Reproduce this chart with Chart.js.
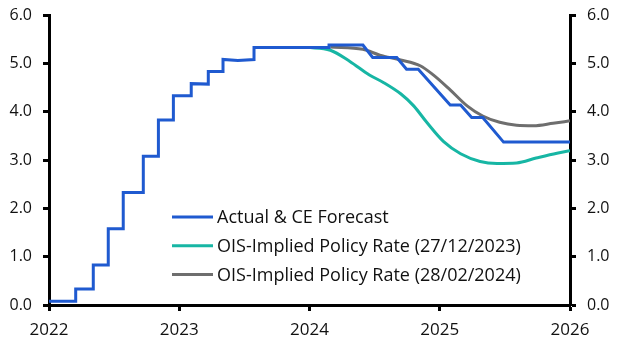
<!DOCTYPE html>
<html>
<head>
<meta charset="utf-8">
<script src="https://cdn.jsdelivr.net/npm/chart.js@4.4.0/dist/chart.umd.min.js"></script>
<style>
    html, body { margin: 0; padding: 0; background: #fff; }
    #wrap { width: 619px; height: 344px; }
</style>
</head>
<body>
<div id="wrap"><canvas id="rateChart" width="619" height="344"></canvas></div>
<script>
// x values are decimal years
const actualX = [2022.0, 2022.205, 2022.205, 2022.34, 2022.34, 2022.455, 2022.455, 2022.57, 2022.57,
    2022.724, 2022.724, 2022.84, 2022.84, 2022.955, 2022.955, 2023.092, 2023.092, 2023.223, 2023.223,
    2023.336, 2023.336, 2023.45, 2023.574, 2023.574, 2024.15, 2024.15, 2024.41, 2024.485, 2024.67,
    2024.745, 2024.835, 2025.08, 2025.16, 2025.245, 2025.33, 2025.49, 2026.0];
const actualY = [0.08, 0.08, 0.33, 0.33, 0.83, 0.83, 1.58, 1.58, 2.33,
    2.33, 3.08, 3.08, 3.83, 3.83, 4.33, 4.33, 4.58, 4.57, 4.83,
    4.83, 5.08, 5.06, 5.08, 5.33, 5.33, 5.38, 5.38, 5.12, 5.12,
    4.88, 4.88, 4.14, 4.14, 3.88, 3.88, 3.37, 3.37];

const oisDecX = [2023.98, 2024.16, 2024.31, 2024.46, 2024.57, 2024.70, 2024.80, 2024.90, 2025.03,
    2025.16, 2025.31, 2025.44, 2025.59, 2025.74, 2025.90, 2026.0];
const oisDecY = [5.33, 5.27, 5.04, 4.76, 4.60, 4.37, 4.12, 3.78, 3.38,
    3.13, 2.97, 2.93, 2.94, 3.04, 3.14, 3.19];

const oisFebX = [2024.16, 2024.41, 2024.54, 2024.70, 2024.85, 2024.95, 2025.08, 2025.21, 2025.33,
    2025.46, 2025.59, 2025.72, 2025.87, 2026.0];
const oisFebY = [5.34, 5.29, 5.17, 5.07, 4.95, 4.76, 4.45, 4.12, 3.91,
    3.78, 3.72, 3.71, 3.76, 3.81];

const seriesLabels = ['Actual & CE Forecast', 'OIS-Implied Policy Rate (27/12/2023)', 'OIS-Implied Policy Rate (28/02/2024)'];
const seriesColors = ['#1f5ad0', '#17b6a4', '#6e6e6e'];

const yMin = 0, yMax = 6, yStep = 1;
const xMin = 2022, xMax = 2026;

const FONT = '"Open Sans", sans-serif';

function toPoints(xs, ys) {
    return xs.map((x, i) => ({ x: x, y: ys[i] }));
}

// legend drawn inside the plot, lower-left middle
const insideLegend = {
    id: 'insideLegend',
    afterDraw(chart) {
        const ctx = chart.ctx;
        const area = chart.chartArea;
        const x0 = area.left + 123;
        const y0 = area.top + 202;
        ctx.save();
        ctx.font = '18px ' + FONT;
        ctx.textBaseline = 'middle';
        chart.data.datasets.forEach((ds, i) => {
            const y = y0 + i * 28.7;
            ctx.strokeStyle = ds.borderColor;
            ctx.lineWidth = 3;
            ctx.beginPath();
            ctx.moveTo(x0, y);
            ctx.lineTo(x0 + 41, y);
            ctx.stroke();
            ctx.fillStyle = '#111';
            ctx.fillText(ds.label, x0 + 45, y + 1);
        });
        ctx.restore();
    }
};

function yAxis(position) {
    return {
        type: 'linear',
        position: position,
        min: yMin,
        max: yMax,
        afterFit: s => {
            s.width = 49;
            s.paddingTop = 0;
            s.paddingBottom = 0;
        },
        border: { display: true, color: '#000', width: 3 },
        grid: { drawOnChartArea: false, drawTicks: true, tickLength: 6, tickWidth: 3, tickColor: '#000' },
        ticks: {
            stepSize: yStep,
            padding: 11,
            color: '#111',
            font: { family: FONT, size: 16 },
            callback: v => v.toFixed(1)
        }
    };
}

const ctx = document.getElementById('rateChart').getContext('2d');
const rateChart = new Chart(ctx, {
    type: 'line',
    data: {
        datasets: [
            { label: seriesLabels[0], data: toPoints(actualX, actualY), borderColor: seriesColors[0], borderWidth: 3, tension: 0 },
            { label: seriesLabels[1], data: toPoints(oisDecX, oisDecY), borderColor: seriesColors[1], borderWidth: 3, cubicInterpolationMode: 'monotone' },
            { label: seriesLabels[2], data: toPoints(oisFebX, oisFebY), borderColor: seriesColors[2], borderWidth: 3, cubicInterpolationMode: 'monotone' }
        ]
    },
    options: {
        responsive: false,
        animation: false,
        devicePixelRatio: 1,
        parsing: false,
        elements: { point: { radius: 0 } },
        layout: { padding: { top: 15, left: 0, right: 0, bottom: 0 } },
        plugins: {
            legend: { display: false },
            tooltip: { enabled: false }
        },
        scales: {
            x: {
                type: 'linear',
                min: xMin,
                max: xMax,
                afterFit: s => {
                    s.height = 39;
                    s.paddingLeft = 0;
                    s.paddingRight = 0;
                },
                border: { display: true, color: '#000', width: 3 },
                grid: { drawOnChartArea: false, drawTicks: true, tickLength: 6, tickWidth: 3, tickColor: '#000' },
                ticks: {
                    stepSize: 1,
                    padding: 9,
                    color: '#111',
                    font: { family: FONT, size: 17 },
                    callback: v => String(v)
                }
            },
            y: yAxis('left'),
            y2: yAxis('right')
        }
    },
    plugins: [insideLegend]
});
</script>
</body>
</html>
